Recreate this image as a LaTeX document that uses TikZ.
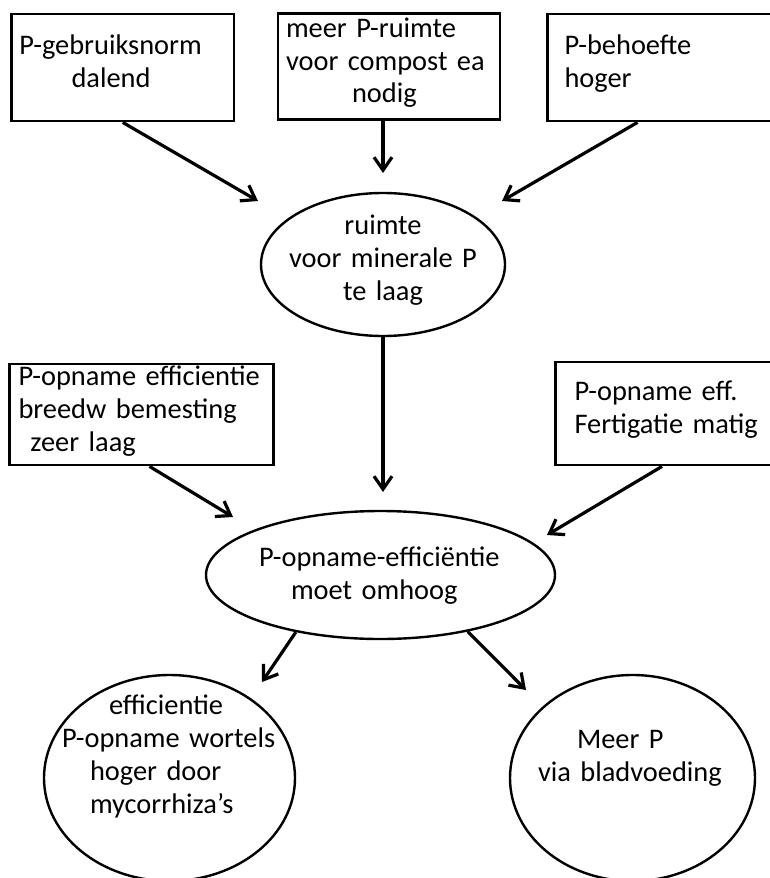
\documentclass[tikz,border=0pt]{standalone}
\usepackage{fontspec}
\setmainfont{Carlito}
\usepackage{tikz}
\usetikzlibrary{
	arrows.meta,shapes.geometric
}

\begin{document}
\begin{tikzpicture}[x=1pt,y=-1pt,font=\fontsize{28.4}{33}\selectfont,
	low/.style={execute at end node={\rule[-#1]{0pt}{0pt}}},
	box/.style={draw,line width=2.8pt,rectangle,align=left,inner ysep=0pt,
		execute at begin node={\rule{0pt}{21pt}},low=14pt},
	oval/.style={draw,line width=2.4pt,ellipse,inner sep=-30pt,
		execute at begin node={\rule{0pt}{21pt}}},
	arr/.style={-{Straight Barb[length=13pt,width=18pt]},line width=3.2pt}]
			\useasboundingbox (0,0) rectangle (769,878);
			\node[box,text width=206.5pt,inner xsep=8pt,minimum height=107pt] (G) at (122.75,67.5) {P-gebruiksnorm\\\hspace*{52pt}dalend};
			\node[box,text width=206pt,inner xsep=8pt,minimum height=106pt] (C) at (389,66.5) {meer P-ruimte\\voor compost ea\\\hspace*{66pt}nodig};
			\node[box,text width=192pt,inner xsep=17pt,minimum height=107pt] (H) at (660.5,67.5) {P-behoefte\\hoger};
			\node[oval,text width=192pt,align=center,minimum width=244pt,minimum height=143pt,low=15pt] (R) at (383,264.5) {ruimte\\voor minerale P\\te laag};
			\node[box,text width=246pt,inner xsep=9pt,minimum height=100pt] (W) at (141.5,414.5) {P-opname efficientie\\breedw bemesting\\\hspace*{12pt}zeer laag};
			\node[box,text width=187pt,inner xsep=19pt,minimum height=103pt] (F) at (668,413.5) {P-opname eff.\\Fertigatie matig};
			\node[oval,text width=243pt,align=left,minimum width=349pt,minimum height=128pt,low=5pt] (E) at (380.5,575) {P-opname-efficiëntie\\\hspace*{32pt}moet omhoog};
			\node[oval,text width=215pt,align=left,minimum width=251pt,minimum height=206pt,low=50pt] (M) at (169.5,778) {\hspace*{47pt}efficientie\\P-opname wortels\\\hspace*{28pt}hoger door\\\hspace*{28pt}mycorrhiza’s};
			\node[oval,text width=189pt,align=left,minimum width=245pt,minimum height=206pt,low=47pt] (V) at (632.5,778) {\hspace*{39pt}Meer P\\via bladvoeding};
			%
			\coordinate (G') at (258,201);
			\coordinate (C') at (383,173);
			\coordinate (H') at (502,201);
			\coordinate (W') at (233,517);
			\coordinate (R') at (383,492);
			\coordinate (F') at (547,535);
			\coordinate (M') at (262,682);
			\coordinate (V') at (526,690);
			%
			\path[arr]
				(G.south) edge (G')
				(C.south -| C') edge (C')
				([xshift=-23pt]H.south) edge (H')
				([xshift=8pt]W.south) edge (W')
				(R.south) edge (R')
				([xshift=-6pt]F.south) edge (F')
				(E.214) edge (M')
				(E.327) edge (V');
		\end{tikzpicture}
\end{document}
